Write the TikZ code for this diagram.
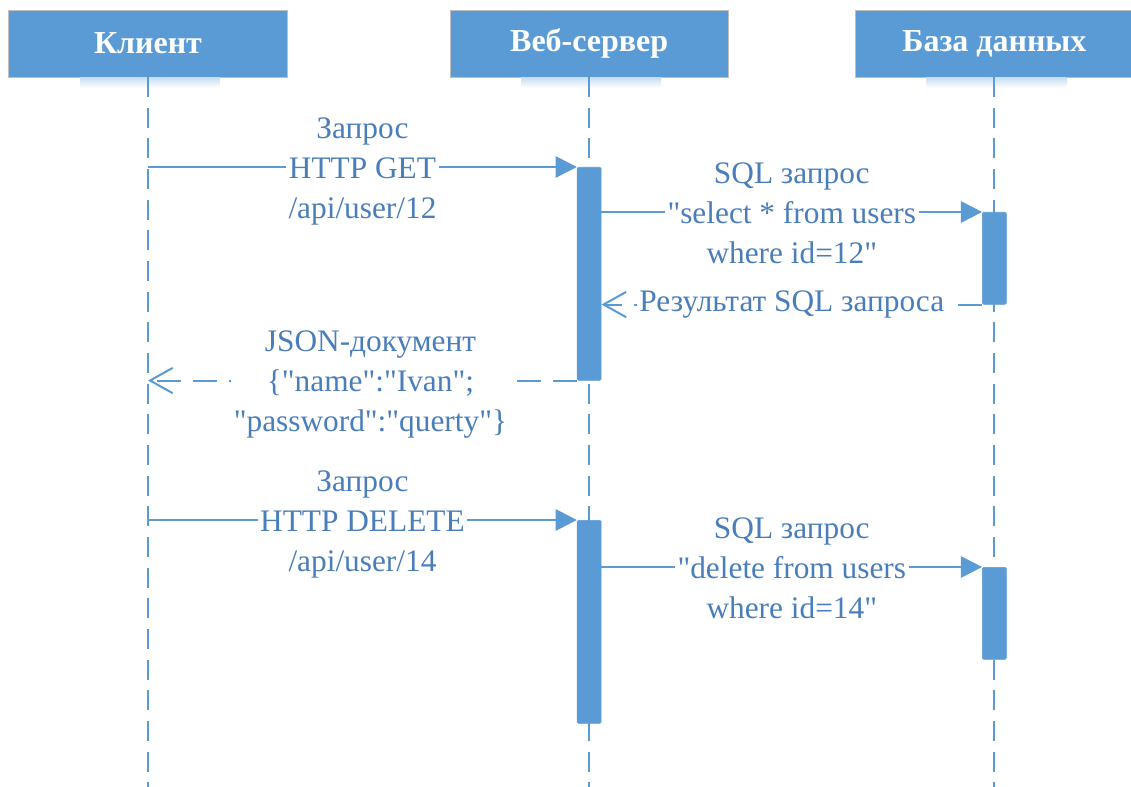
\documentclass[tikz,border=0pt]{standalone}
\usepackage{fontspec}
\setmainfont{Liberation Serif}[Ligatures=TeXOff]
\usetikzlibrary{arrows.meta,positioning}
\definecolor{boxblue}{HTML}{5B9BD5}
\definecolor{textblue}{HTML}{4A7EBB}

\begin{document}
\begin{tikzpicture}[x=0.75pt, y=-0.75pt, line width=1.5pt]
\tikzstyle{every node}=[font=\fontsize{23.5}{30}\selectfont, text=textblue]
\tikzstyle{head}=[fill=boxblue, draw=black!25, thin, minimum width=209pt, minimum height=50pt, text=white, font=\fontsize{24}{29}\selectfont\bfseries]
\tikzstyle{bar}=[fill=boxblue, draw=boxblue, thin, minimum width=18pt, anchor=north, rounded corners=1pt, inner sep=0pt]
\tikzstyle{life}=[draw=boxblue, dash pattern=on 15pt off 8pt]
\tikzstyle{msg}=[draw=boxblue, -{Triangle[length=16pt,width=16pt]}]
\tikzstyle{ret}=[draw=boxblue, dash pattern=on 18pt off 9pt, -{Straight Barb[length=17pt,width=19pt]}]
\tikzstyle{lbl}=[fill=white, align=center, inner sep=2pt, yshift=-3pt]

\useasboundingbox (0,0) rectangle (1131,787);

\node[head] (client) at (148,43.5) {Клиент};
\node[head, right=121.5pt of client] (server) {Веб-сервер};
\node[head, right=94.5pt of server] (db) {База данных};

% soft shadow under the heads
\foreach \h in {client,server,db}
  \shade[top color=boxblue!35, bottom color=white, draw=none]
    ([xshift=-51pt]\h.south) rectangle ([xshift=54pt, yshift=-8pt]\h.south);

\coordinate (cl-end) at (client.south |- 0,787);
\coordinate (srv-end) at (server.south |- 0,787);
\coordinate (db-end) at (db.south |- 0,787);
\draw[life] (client.south) -- (cl-end);
\draw[life] (server.south) -- (srv-end);
\draw[life] (db.south) -- (db-end);

\node[bar, minimum height=159.75pt] (srv1) at (server.south |- 0,167) {};
\node[bar, minimum height=69pt]     (db1)  at (db.south |- 0,212) {};
\node[bar, minimum height=152.25pt] (srv2) at (server.south |- 0,520) {};
\node[bar, minimum height=69pt]     (db2)  at (db.south |- 0,567) {};

\coordinate (c1) at (client.south |- srv1.north);
\coordinate (c2) at (client.south |- srv1.south);
\coordinate (c3) at (client.south |- srv2.north);

\draw[msg] (c1) -- node[lbl]{Запрос\\HTTP GET\\/api/user/12} (srv1.north west);
\draw[msg] (srv1.east |- db1.north) -- node[lbl, yshift=2pt]{SQL запрос\\"select * from users\\where id=12"} (db1.north west);
\draw[ret] (db1.south west) -- node[lbl, yshift=3pt]{Результат SQL запроса} (srv1.east |- db1.south);
\draw[ret] (srv1.south west) -- node[lbl, xshift=6pt]{JSON-документ\\\{"name":"Ivan";\\"password":"querty"\}} (c2);
\draw[msg] (c3) -- node[lbl]{Запрос\\HTTP DELETE\\/api/user/14} (srv2.north west);
\draw[msg] (srv2.east |- db2.north) -- node[lbl, yshift=2pt]{SQL запрос\\"delete from users\\where id=14"} (db2.north west);
\end{tikzpicture}
\end{document}
